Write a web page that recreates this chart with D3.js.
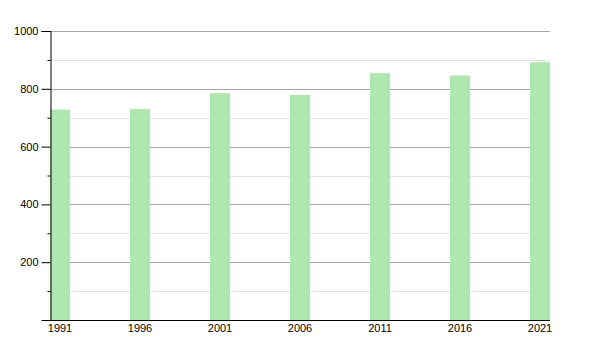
<!DOCTYPE html>
<html>
<head>
<meta charset="utf-8">
<script src="https://cdn.jsdelivr.net/npm/d3@7"></script>
<style>
  body { margin: 0; background: #fff; }
  svg { display: block; font-family: "Liberation Sans", Arial, sans-serif; }
</style>
</head>
<body>
<svg width="600" height="350"></svg>
<script>
const years = ["1991", "1996", "2001", "2006", "2011", "2016", "2021"];
const values = [728, 730, 785, 779, 854, 846, 892];
const majorTicks = [200, 400, 600, 800, 1000];
const minorTicks = [100, 300, 500, 700, 900];

const svg = d3.select("svg");

const x = d3.scaleBand()
  .domain(years)
  .range([50, 550])
  .paddingInner(0.75)
  .paddingOuter(0);

const y = d3.scaleLinear()
  .domain([0, 1000])
  .range([320, 31]);

// grid lines, minor first
svg.append("g")
  .selectAll("line")
  .data(minorTicks)
  .join("line")
  .attr("x1", 50)
  .attr("x2", 550)
  .attr("y1", (d) => Math.round(y(d)) + 0.5)
  .attr("y2", (d) => Math.round(y(d)) + 0.5)
  .attr("stroke", "#e2e2e2");

svg.append("g")
  .selectAll("line")
  .data(majorTicks)
  .join("line")
  .attr("x1", 50)
  .attr("x2", 550)
  .attr("y1", (d) => Math.round(y(d)) + 0.5)
  .attr("y2", (d) => Math.round(y(d)) + 0.5)
  .attr("stroke", "#a8a8a8");

// bars
svg.append("g")
  .selectAll("rect")
  .data(values)
  .join("rect")
  .attr("x", (d, i) => x(years[i]))
  .attr("width", x.bandwidth())
  .attr("y", (d) => y(d))
  .attr("height", (d) => y(0) - y(d))
  .attr("fill", "#b0e6b0");

// y axis
const yAxis = svg.append("g")
  .attr("transform", "translate(50.5,0)")
  .call(d3.axisLeft(y).tickValues(majorTicks).tickSize(9).tickPadding(3).tickFormat(d3.format("d")));
yAxis.selectAll("text").attr("font-size", 11).attr("fill", "#000").attr("font-family", "Liberation Sans, Arial, sans-serif");

svg.append("g")
  .attr("transform", "translate(50.5,0)")
  .call(d3.axisLeft(y).tickValues(minorTicks).tickSize(3).tickFormat(""))
  .call((g) => g.select(".domain").remove());

// x axis
const xAxis = svg.append("g")
  .attr("transform", "translate(0,320.5)")
  .call(d3.axisBottom(x).tickSize(0).tickPadding(4));
xAxis.select(".domain").attr("d", "M50,0H550");
xAxis.selectAll("text").attr("font-size", 11).attr("fill", "#000").attr("font-family", "Liberation Sans, Arial, sans-serif");
</script>
</body>
</html>
